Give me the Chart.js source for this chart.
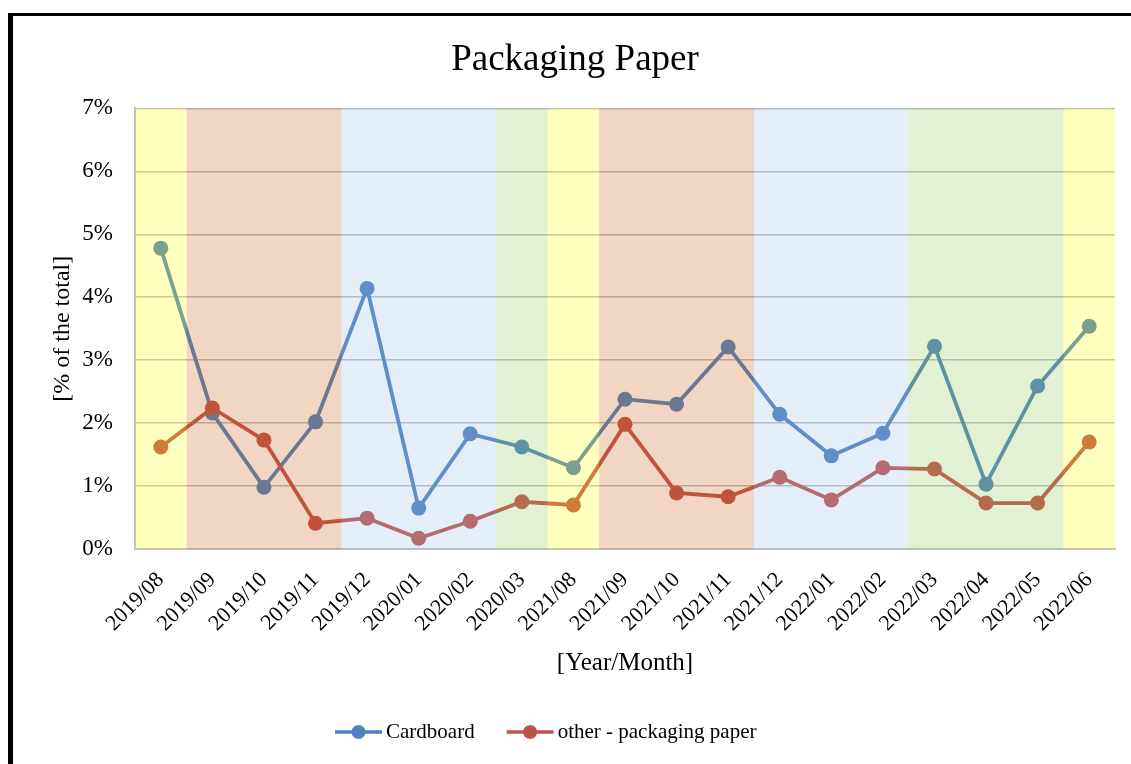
<!DOCTYPE html>
<html>
<head>
<meta charset="utf-8">
<script src="https://cdn.jsdelivr.net/npm/chart.js@4/dist/chart.umd.min.js"></script>
<style>
  body { margin: 0; background: #fff; overflow: hidden; }
  #marco {
    position: absolute;
    left: 8px;
    top: 13px;
    width: 1128px;
    height: 760px;
    border-left: 5px solid #000;
    border-top: 3px solid #000;
  }
</style>
</head>
<body>
<div id="marco"><canvas id="grafico" width="1128" height="760"></canvas></div>
<script>
const meses = ["2019/08", "2019/09", "2019/10", "2019/11", "2019/12", "2020/01", "2020/02", "2020/03",
  "2021/08", "2021/09", "2021/10", "2021/11", "2021/12", "2022/01", "2022/02", "2022/03",
  "2022/04", "2022/05", "2022/06"];
const estaciones = ["verano", "otono", "otono", "otono", "invierno", "invierno", "invierno", "primavera",
  "verano", "otono", "otono", "otono", "invierno", "invierno", "invierno", "primavera",
  "primavera", "primavera", "verano"];
const carton = [4.78, 2.16, 0.98, 2.02, 4.14, 0.65, 1.83, 1.62, 1.29, 2.38, 2.30, 3.21, 2.14, 1.48, 1.84, 3.22, 1.03, 2.59, 3.54];
const otroPapel = [1.62, 2.24, 1.73, 0.41, 0.49, 0.17, 0.44, 0.75, 0.70, 1.98, 0.89, 0.83, 1.14, 0.78, 1.29, 1.27, 0.73, 0.73, 1.70];
const ticksY = [0, 1, 2, 3, 4, 5, 6, 7];

const coloresEstacion = {
  verano: "rgba(255,255,0,0.25)",
  otono: "rgba(197,90,17,0.25)",
  invierno: "rgba(143,187,227,0.25)",
  primavera: "rgba(139,195,83,0.25)",
};

const FUENTE = "'Liberation Serif', 'Times New Roman', serif";

// bandas de estaciones, encima de las lineas (se ven tenidas)
const pluginEstaciones = {
  id: "estaciones",
  afterDatasetsDraw(chart) {
    const ctx = chart.ctx;
    const x = chart.scales.x;
    const area = chart.chartArea;
    const ancho = x.getPixelForValue(1) - x.getPixelForValue(0);
    ctx.save();
    estaciones.forEach(function (e, i) {
      const centro = x.getPixelForValue(i);
      ctx.fillStyle = coloresEstacion[e];
      ctx.fillRect(centro - ancho / 2, area.top, ancho, area.bottom - area.top);
    });
    ctx.restore();
  },
};

// leyenda con linea + punto
const pluginLeyenda = {
  id: "leyendaLinea",
  afterDraw(chart) {
    const ctx = chart.ctx;
    const y = 716;
    let xPos = 322;
    ctx.save();
    ctx.font = "21px " + FUENTE;
    ctx.textBaseline = "middle";
    chart.data.datasets.forEach(function (ds) {
      ctx.strokeStyle = ds.borderColor;
      ctx.lineWidth = 3.5;
      ctx.beginPath();
      ctx.moveTo(xPos, y);
      ctx.lineTo(xPos + 47, y);
      ctx.stroke();
      ctx.fillStyle = ds.borderColor;
      ctx.beginPath();
      ctx.arc(xPos + 23.5, y, 7, 0, Math.PI * 2);
      ctx.fill();
      ctx.fillStyle = "#000";
      ctx.fillText(ds.label, xPos + 51, y);
      xPos += 51 + ctx.measureText(ds.label).width + 32;
    });
    ctx.restore();
  },
};

new Chart(document.getElementById("grafico"), {
  type: "line",
  data: {
    labels: meses,
    datasets: [
      {
        label: "Cardboard",
        data: carton,
        borderColor: "#4F81BD",
        backgroundColor: "#4F81BD",
        borderWidth: 3.8,
        pointRadius: 7.5,
        pointBorderWidth: 0,
        pointBackgroundColor: "#4F81BD",
        tension: 0,
        order: 1,
      },
      {
        label: "other - packaging paper",
        data: otroPapel,
        borderColor: "#C0504D",
        backgroundColor: "#C0504D",
        borderWidth: 3.8,
        pointRadius: 7.5,
        pointBorderWidth: 0,
        pointBackgroundColor: "#C0504D",
        tension: 0,
        order: 0,
      },
    ],
  },
  options: {
    responsive: false,
    animation: false,
    layout: { padding: { left: 22, right: 26, top: 0, bottom: 77 } },
    plugins: {
      legend: { display: false },
      tooltip: { enabled: false },
      title: {
        display: true,
        text: "Packaging Paper",
        color: "#000",
        font: { family: FUENTE, size: 37, weight: "normal", lineHeight: 1.2 },
        padding: { top: 22, bottom: 26 },
      },
    },
    scales: {
      x: {
        offset: true,
        grid: { display: false },
        border: { display: true, color: "#bfbfbf", width: 2 },
        ticks: {
          color: "#000",
          font: { family: FUENTE, size: 22 },
          minRotation: 45,
          maxRotation: 45,
          autoSkip: false,
          padding: 10,
        },
        title: {
          display: true,
          text: "[Year/Month]",
          color: "#000",
          font: { family: FUENTE, size: 25, lineHeight: 1.2 },
          padding: { top: 4, bottom: 21 },
        },
        afterFit: function (s) { s.height = 150; },
      },
      y: {
        min: 0,
        max: 7,
        grid: { color: "#bdbdbd", lineWidth: 1.5, drawTicks: false },
        border: { display: true, color: "#bfbfbf", width: 2 },
        afterBuildTicks: function (s) { s.ticks = ticksY.map(function (v) { return { value: v }; }); },
        ticks: {
          color: "#000",
          font: { family: FUENTE, size: 23 },
          padding: 22,
          callback: function (v) { return v + "%"; },
        },
        title: {
          display: true,
          text: "[% of the total]",
          color: "#000",
          font: { family: FUENTE, size: 24, lineHeight: 1.2 },
          padding: { top: 13, bottom: 0 },
        },
        afterFit: function (s) { s.width = 100; },
      },
    },
  },
  plugins: [pluginEstaciones, pluginLeyenda],
});
</script>
</body>
</html>
